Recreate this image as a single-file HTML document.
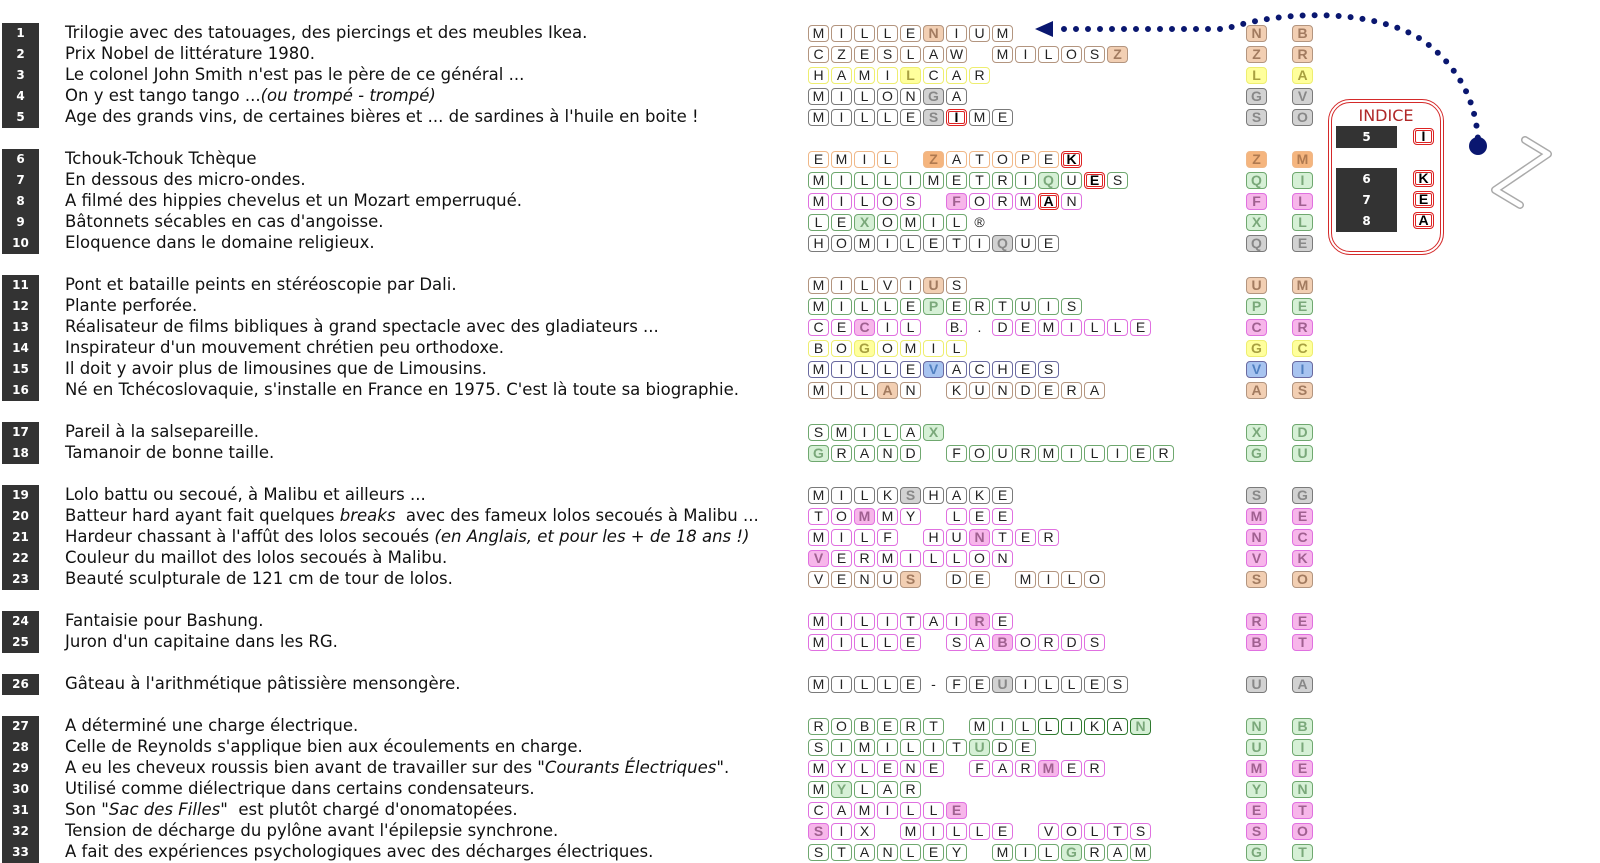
<!DOCTYPE html>
<html><head><meta charset="utf-8">
<style>
body{margin:0;width:1600px;height:862px;background:#fff;position:relative;overflow:hidden}
.r{position:absolute;left:0;width:1600px;height:21px;margin-top:3px}
.n{position:absolute;left:2px;top:0;width:37px;height:21px;background:#333;color:#fff;font:bold 12px "DejaVu Sans",sans-serif;line-height:21px;text-align:center}
.t{position:absolute;left:65px;top:0;line-height:21px;font:16.5px "DejaVu Sans",sans-serif;color:#111;white-space:nowrap}
.w{position:absolute;left:808px;top:2px;display:flex}
u{display:block;width:21px;height:17px;margin-right:2px;box-sizing:border-box;border:1px solid var(--c);border-radius:4px;text-decoration:none;font:14px "Liberation Sans",sans-serif;line-height:15px;text-align:center;color:#222}
u.e{border-color:transparent}
u.h,.k u{background:var(--f);color:var(--d);font:bold 14px "Liberation Sans",sans-serif;line-height:15px}
u.x{border:1px solid #d22;box-shadow:inset 0 0 0 1px #fff,inset 0 0 0 2px #d22;font-weight:bold;color:#000}
.k{position:absolute;top:2px}
.k1{left:1246px}.k2{left:1292px}
.ta{--c:#b3957f;--f:#f2cfb3;--d:#a27b60}
.or{--c:#f0b888;--f:#f5b57e;--d:#b07a50}
.ye{--c:#eeee70;--f:#ffff9c;--d:#a8a040}
.gy{--c:#7a7a7a;--f:#d2d2d2;--d:#888}
.gr{--c:#6fa86f;--f:#d6f0d6;--d:#7aa87a}
.pk{--c:#e070e0;--f:#f7b6ea;--d:#a06090}
.bl{--c:#6a6aa0;--f:#a8c4f0;--d:#5080c0}
.ind{position:absolute;left:1328px;top:99px;width:116px;height:156px;box-sizing:border-box;border:4px double #d42a2a;border-radius:22px}
.ind .ti{position:absolute;left:0;width:108px;top:3px;text-align:center;font:16px "DejaVu Sans",sans-serif;color:#b02828}
.db{position:absolute;background:#333;color:#fff;font:bold 12px "DejaVu Sans",sans-serif;text-align:center}
.ib{position:absolute;--c:#d22}
</style></head><body>

<svg width="1600" height="862" style="position:absolute;left:0;top:0">
<polygon points="1035,29 1053,21 1053,37" fill="#0a1770"/>
<path d="M1064,29 L1225,29 C1290,8 1380,10 1425,42 C1462,70 1476,105 1478,140" fill="none" stroke="#0a1770" stroke-width="6" stroke-linecap="round" stroke-dasharray="0 12"/>
<circle cx="1478" cy="146" r="9" fill="#0a1770"/>
<polyline points="1525,140 1548,154 1495,190 1520,205" fill="none" stroke="#aaa" stroke-width="8" stroke-linejoin="round" stroke-linecap="round"/>
<polyline points="1525,140 1548,154 1495,190 1520,205" fill="none" stroke="#fff" stroke-width="5" stroke-linejoin="round" stroke-linecap="round"/>
</svg>

<div class="ind"><div class="ti">INDICE</div></div>
<div class="db" style="left:1336px;top:126px;width:61px;height:22px;line-height:22px">5</div>
<div class="db" style="left:1336px;top:168px;width:61px;height:64px;line-height:21px;padding-top:1px;box-sizing:border-box">6<br>7<br>8</div>
<div class="ib" style="left:1413px;top:128px"><u class="x">I</u></div>
<div class="ib" style="left:1413px;top:170px"><u class="x">K</u></div>
<div class="ib" style="left:1413px;top:191px"><u class="x">E</u></div>
<div class="ib" style="left:1413px;top:212px"><u class="x">A</u></div>

<div class="r ta" style="top:20px"><div class="n">1</div><div class="t">Trilogie avec des tatouages, des piercings et des meubles Ikea.</div><div class="w"><u>M</u><u>I</u><u>L</u><u>L</u><u>E</u><u class="h">N</u><u>I</u><u>U</u><u>M</u></div><div class="k k1"><u>N</u></div><div class="k k2"><u>B</u></div></div>
<div class="r ta" style="top:41px"><div class="n">2</div><div class="t">Prix Nobel de littérature 1980.</div><div class="w"><u>C</u><u>Z</u><u>E</u><u>S</u><u>L</u><u>A</u><u>W</u><u class="e"></u><u>M</u><u>I</u><u>L</u><u>O</u><u>S</u><u class="h">Z</u></div><div class="k k1"><u>Z</u></div><div class="k k2"><u>R</u></div></div>
<div class="r ye" style="top:62px"><div class="n">3</div><div class="t">Le colonel John Smith n'est pas le père de ce général ...</div><div class="w"><u>H</u><u>A</u><u>M</u><u>I</u><u class="h">L</u><u>C</u><u>A</u><u>R</u></div><div class="k k1"><u>L</u></div><div class="k k2"><u>A</u></div></div>
<div class="r gy" style="top:83px"><div class="n">4</div><div class="t">On y est tango tango ...<i>(ou trompé - trompé)</i></div><div class="w"><u>M</u><u>I</u><u>L</u><u>O</u><u>N</u><u class="h">G</u><u>A</u></div><div class="k k1"><u>G</u></div><div class="k k2"><u>V</u></div></div>
<div class="r gy" style="top:104px"><div class="n">5</div><div class="t">Age des grands vins, de certaines bières et ... de sardines à l'huile en boite !</div><div class="w"><u>M</u><u>I</u><u>L</u><u>L</u><u>E</u><u class="h">S</u><u class="x">I</u><u>M</u><u>E</u></div><div class="k k1"><u>S</u></div><div class="k k2"><u>O</u></div></div>

<div class="r or" style="top:146px"><div class="n">6</div><div class="t">Tchouk-Tchouk Tchèque</div><div class="w"><u>E</u><u>M</u><u>I</u><u>L</u><u class="e"></u><u class="h">Z</u><u>A</u><u>T</u><u>O</u><u>P</u><u>E</u><u class="x">K</u></div><div class="k k1"><u>Z</u></div><div class="k k2"><u>M</u></div></div>
<div class="r gr" style="top:167px"><div class="n">7</div><div class="t">En dessous des micro-ondes.</div><div class="w"><u>M</u><u>I</u><u>L</u><u>L</u><u>I</u><u>M</u><u>E</u><u>T</u><u>R</u><u>I</u><u class="h">Q</u><u>U</u><u class="x">E</u><u>S</u></div><div class="k k1"><u>Q</u></div><div class="k k2"><u>I</u></div></div>
<div class="r pk" style="top:188px"><div class="n">8</div><div class="t">A filmé des hippies chevelus et un Mozart emperruqué.</div><div class="w"><u>M</u><u>I</u><u>L</u><u>O</u><u>S</u><u class="e"></u><u class="h">F</u><u>O</u><u>R</u><u>M</u><u class="x">A</u><u>N</u></div><div class="k k1"><u>F</u></div><div class="k k2"><u>L</u></div></div>
<div class="r gr" style="top:209px"><div class="n">9</div><div class="t">Bâtonnets sécables en cas d'angoisse.</div><div class="w"><u>L</u><u>E</u><u class="h">X</u><u>O</u><u>M</u><u>I</u><u>L</u><u class="e">®</u></div><div class="k k1"><u>X</u></div><div class="k k2"><u>L</u></div></div>
<div class="r gy" style="top:230px"><div class="n">10</div><div class="t">Eloquence dans le domaine religieux.</div><div class="w"><u>H</u><u>O</u><u>M</u><u>I</u><u>L</u><u>E</u><u>T</u><u>I</u><u class="h">Q</u><u>U</u><u>E</u></div><div class="k k1"><u>Q</u></div><div class="k k2"><u>E</u></div></div>

<div class="r ta" style="top:272px"><div class="n">11</div><div class="t">Pont et bataille peints en stéréoscopie par Dali.</div><div class="w"><u>M</u><u>I</u><u>L</u><u>V</u><u>I</u><u class="h">U</u><u>S</u></div><div class="k k1"><u>U</u></div><div class="k k2"><u>M</u></div></div>
<div class="r gr" style="top:293px"><div class="n">12</div><div class="t">Plante perforée.</div><div class="w"><u>M</u><u>I</u><u>L</u><u>L</u><u>E</u><u class="h">P</u><u>E</u><u>R</u><u>T</u><u>U</u><u>I</u><u>S</u></div><div class="k k1"><u>P</u></div><div class="k k2"><u>E</u></div></div>
<div class="r pk" style="top:314px"><div class="n">13</div><div class="t">Réalisateur de films bibliques à grand spectacle avec des gladiateurs ...</div><div class="w"><u>C</u><u>E</u><u class="h">C</u><u>I</u><u>L</u><u class="e"></u><u>B.</u><u class="e">.</u><u>D</u><u>E</u><u>M</u><u>I</u><u>L</u><u>L</u><u>E</u></div><div class="k k1"><u>C</u></div><div class="k k2"><u>R</u></div></div>
<div class="r ye" style="top:335px"><div class="n">14</div><div class="t">Inspirateur d'un mouvement chrétien peu orthodoxe.</div><div class="w"><u>B</u><u>O</u><u class="h">G</u><u>O</u><u>M</u><u>I</u><u>L</u></div><div class="k k1"><u>G</u></div><div class="k k2"><u>C</u></div></div>
<div class="r bl" style="top:356px"><div class="n">15</div><div class="t">Il doit y avoir plus de limousines que de Limousins.</div><div class="w"><u>M</u><u>I</u><u>L</u><u>L</u><u>E</u><u class="h">V</u><u>A</u><u>C</u><u>H</u><u>E</u><u>S</u></div><div class="k k1"><u>V</u></div><div class="k k2"><u>I</u></div></div>
<div class="r ta" style="top:377px"><div class="n">16</div><div class="t">Né en Tchécoslovaquie, s'installe en France en 1975. C'est là toute sa biographie.</div><div class="w"><u>M</u><u>I</u><u>L</u><u class="h">A</u><u>N</u><u class="e"></u><u>K</u><u>U</u><u>N</u><u>D</u><u>E</u><u>R</u><u>A</u></div><div class="k k1"><u>A</u></div><div class="k k2"><u>S</u></div></div>

<div class="r gr" style="top:419px"><div class="n">17</div><div class="t">Pareil à la salsepareille.</div><div class="w"><u>S</u><u>M</u><u>I</u><u>L</u><u>A</u><u class="h">X</u></div><div class="k k1"><u>X</u></div><div class="k k2"><u>D</u></div></div>
<div class="r gr" style="top:440px"><div class="n">18</div><div class="t">Tamanoir de bonne taille.</div><div class="w"><u class="h">G</u><u>R</u><u>A</u><u>N</u><u>D</u><u class="e"></u><u>F</u><u>O</u><u>U</u><u>R</u><u>M</u><u>I</u><u>L</u><u>I</u><u>E</u><u>R</u></div><div class="k k1"><u>G</u></div><div class="k k2"><u>U</u></div></div>

<div class="r gy" style="top:482px"><div class="n">19</div><div class="t">Lolo battu ou secoué, à Malibu et ailleurs ...</div><div class="w"><u>M</u><u>I</u><u>L</u><u>K</u><u class="h">S</u><u>H</u><u>A</u><u>K</u><u>E</u></div><div class="k k1"><u>S</u></div><div class="k k2"><u>G</u></div></div>
<div class="r pk" style="top:503px"><div class="n">20</div><div class="t">Batteur hard ayant fait quelques <i>breaks</i>&nbsp; avec des fameux lolos secoués à Malibu ...</div><div class="w"><u>T</u><u>O</u><u class="h">M</u><u>M</u><u>Y</u><u class="e"></u><u>L</u><u>E</u><u>E</u></div><div class="k k1"><u>M</u></div><div class="k k2"><u>E</u></div></div>
<div class="r pk" style="top:524px"><div class="n">21</div><div class="t">Hardeur chassant à l'affût des lolos secoués <i>(en Anglais, et pour les + de 18 ans !)</i></div><div class="w"><u>M</u><u>I</u><u>L</u><u>F</u><u class="e"></u><u>H</u><u>U</u><u class="h">N</u><u>T</u><u>E</u><u>R</u></div><div class="k k1"><u>N</u></div><div class="k k2"><u>C</u></div></div>
<div class="r pk" style="top:545px"><div class="n">22</div><div class="t">Couleur du maillot des lolos secoués à Malibu.</div><div class="w"><u class="h">V</u><u>E</u><u>R</u><u>M</u><u>I</u><u>L</u><u>L</u><u>O</u><u>N</u></div><div class="k k1"><u>V</u></div><div class="k k2"><u>K</u></div></div>
<div class="r ta" style="top:566px"><div class="n">23</div><div class="t">Beauté sculpturale de 121 cm de tour de lolos.</div><div class="w"><u>V</u><u>E</u><u>N</u><u>U</u><u class="h">S</u><u class="e"></u><u>D</u><u>E</u><u class="e"></u><u>M</u><u>I</u><u>L</u><u>O</u></div><div class="k k1"><u>S</u></div><div class="k k2"><u>O</u></div></div>

<div class="r pk" style="top:608px"><div class="n">24</div><div class="t">Fantaisie pour Bashung.</div><div class="w"><u>M</u><u>I</u><u>L</u><u>I</u><u>T</u><u>A</u><u>I</u><u class="h">R</u><u>E</u></div><div class="k k1"><u>R</u></div><div class="k k2"><u>E</u></div></div>
<div class="r pk" style="top:629px"><div class="n">25</div><div class="t">Juron d'un capitaine dans les RG.</div><div class="w"><u>M</u><u>I</u><u>L</u><u>L</u><u>E</u><u class="e"></u><u>S</u><u>A</u><u class="h">B</u><u>O</u><u>R</u><u>D</u><u>S</u></div><div class="k k1"><u>B</u></div><div class="k k2"><u>T</u></div></div>

<div class="r gy" style="top:671px"><div class="n">26</div><div class="t">Gâteau à l'arithmétique pâtissière mensongère.</div><div class="w"><u>M</u><u>I</u><u>L</u><u>L</u><u>E</u><u class="e">-</u><u>F</u><u>E</u><u class="h">U</u><u>I</u><u>L</u><u>L</u><u>E</u><u>S</u></div><div class="k k1"><u>U</u></div><div class="k k2"><u>A</u></div></div>

<div class="r gr" style="top:713px"><div class="n">27</div><div class="t">A déterminé une charge électrique.</div><div class="w"><u>R</u><u>O</u><u>B</u><u>E</u><u>R</u><u>T</u><u class="e"></u><u>M</u><u>I</u><u>L</u><u style="--c:#2f7a2f">L</u><u style="--c:#2f7a2f">I</u><u style="--c:#2f7a2f">K</u><u style="--c:#2f7a2f">A</u><u class="h" style="--c:#2f7a2f">N</u></div><div class="k k1"><u>N</u></div><div class="k k2"><u>B</u></div></div>
<div class="r gr" style="top:734px"><div class="n">28</div><div class="t">Celle de Reynolds s'applique bien aux écoulements en charge.</div><div class="w"><u>S</u><u>I</u><u>M</u><u>I</u><u>L</u><u>I</u><u>T</u><u class="h">U</u><u>D</u><u>E</u></div><div class="k k1"><u>U</u></div><div class="k k2"><u>I</u></div></div>
<div class="r pk" style="top:755px"><div class="n">29</div><div class="t">A eu les cheveux roussis bien avant de travailler sur des <i>"Courants Électriques"</i>.</div><div class="w"><u>M</u><u>Y</u><u>L</u><u>E</u><u>N</u><u>E</u><u class="e"></u><u>F</u><u>A</u><u>R</u><u class="h">M</u><u>E</u><u>R</u></div><div class="k k1"><u>M</u></div><div class="k k2"><u>E</u></div></div>
<div class="r gr" style="top:776px"><div class="n">30</div><div class="t">Utilisé comme diélectrique dans certains condensateurs.</div><div class="w"><u>M</u><u class="h">Y</u><u>L</u><u>A</u><u>R</u></div><div class="k k1"><u>Y</u></div><div class="k k2"><u>N</u></div></div>
<div class="r pk" style="top:797px"><div class="n">31</div><div class="t">Son <i>"Sac des Filles"</i>&nbsp; est plutôt chargé d'onomatopées.</div><div class="w"><u>C</u><u>A</u><u>M</u><u>I</u><u>L</u><u>L</u><u class="h">E</u></div><div class="k k1"><u>E</u></div><div class="k k2"><u>T</u></div></div>
<div class="r pk" style="top:818px"><div class="n">32</div><div class="t">Tension de décharge du pylône avant l'épilepsie synchrone.</div><div class="w"><u class="h">S</u><u>I</u><u>X</u><u class="e"></u><u>M</u><u>I</u><u>L</u><u>L</u><u>E</u><u class="e"></u><u>V</u><u>O</u><u>L</u><u>T</u><u>S</u></div><div class="k k1"><u>S</u></div><div class="k k2"><u>O</u></div></div>
<div class="r gr" style="top:839px"><div class="n">33</div><div class="t">A fait des expériences psychologiques avec des décharges électriques.</div><div class="w"><u>S</u><u>T</u><u>A</u><u>N</u><u>L</u><u>E</u><u>Y</u><u class="e"></u><u>M</u><u>I</u><u>L</u><u class="h">G</u><u>R</u><u>A</u><u>M</u></div><div class="k k1"><u>G</u></div><div class="k k2"><u>T</u></div></div>

</body></html>
